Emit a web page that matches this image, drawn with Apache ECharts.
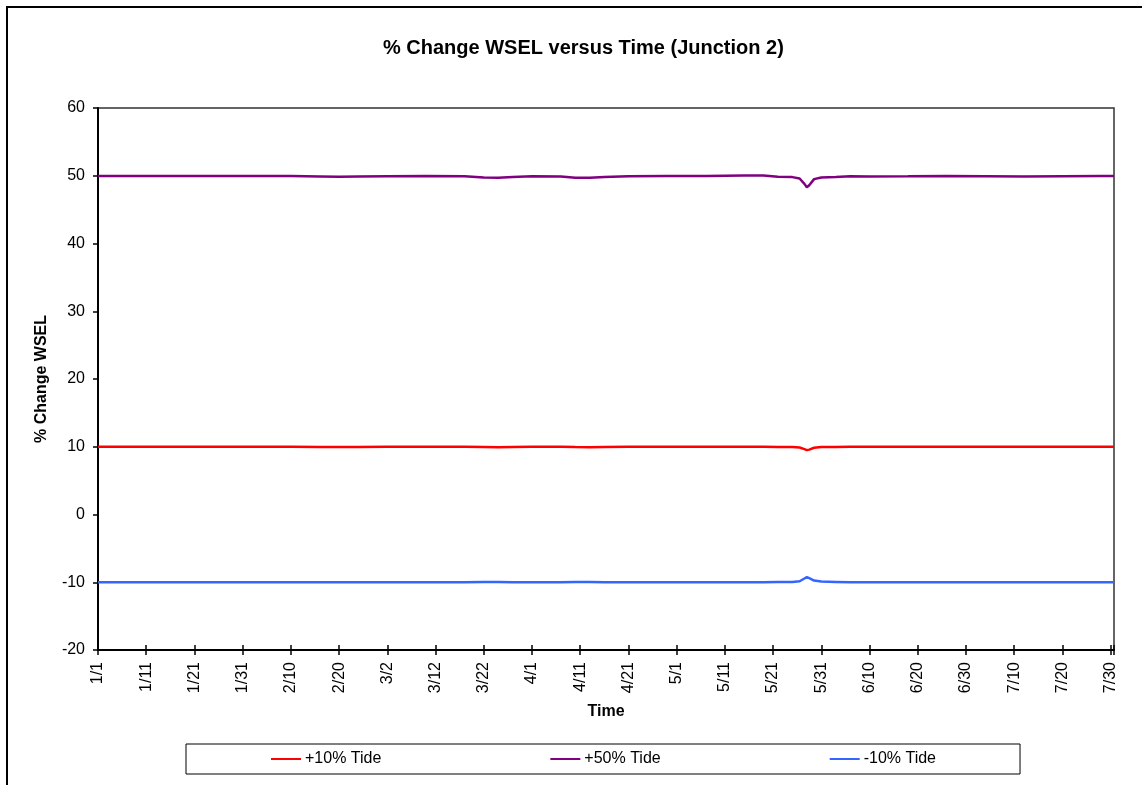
<!DOCTYPE html>
<html>
<head>
<meta charset="utf-8">
<script src="https://cdn.jsdelivr.net/npm/echarts@6/dist/echarts.min.js"></script>
<style>
html,body{margin:0;padding:0;background:#fff;}
#chart{width:1142px;height:785px;}
</style>
</head>
<body>
<div id="chart"></div>
<script>
// Day offsets from 1/1 (x positions of sampled points)
const days = [0, 8, 16, 24, 32, 40, 46, 50, 54, 60, 68, 76, 80, 83, 86, 90, 96, 99, 102, 105, 110, 118, 126, 134, 138, 141, 144, 145.5, 146.5, 147, 147.5, 148.5, 150, 153, 156, 160, 168, 176, 184, 192, 200, 208, 210.7];

const plus10 = [10.0, 10.0, 10.0, 10.0, 10.0, 10.0, 9.98, 9.97, 9.98, 10.0, 10.0, 9.99, 9.96, 9.94, 9.97, 10.0, 9.99, 9.95, 9.94, 9.97, 10.0, 10.0, 10.0, 10.01, 10.01, 9.97, 9.95, 9.88, 9.65, 9.5, 9.58, 9.85, 9.95, 9.97, 10.0, 9.99, 10.0, 10.0, 10.0, 9.99, 10.0, 10.0, 10.0];

const plus50 = [49.95, 49.97, 49.98, 49.97, 49.98, 49.97, 49.9, 49.85, 49.88, 49.92, 49.95, 49.92, 49.75, 49.7, 49.8, 49.93, 49.9, 49.72, 49.7, 49.82, 49.93, 49.95, 49.97, 50.02, 50.03, 49.85, 49.8, 49.6, 48.8, 48.3, 48.6, 49.5, 49.75, 49.8, 49.92, 49.9, 49.92, 49.95, 49.93, 49.9, 49.93, 49.95, 49.95];

const minus10 = [-10.0, -10.0, -10.0, -10.0, -10.0, -10.0, -10.0, -9.99, -10.0, -10.0, -10.0, -10.0, -9.98, -9.97, -9.99, -10.0, -10.0, -9.98, -9.97, -9.99, -10.0, -10.0, -10.0, -10.0, -10.0, -9.97, -9.95, -9.85, -9.45, -9.25, -9.4, -9.75, -9.9, -9.95, -10.0, -10.0, -10.0, -10.0, -10.0, -10.0, -10.0, -10.0, -10.0];

const tickLabels = ['1/1','1/11','1/21','1/31','2/10','2/20','3/2','3/12','3/22','4/1','4/11','4/21','5/1','5/11','5/21','5/31','6/10','6/20','6/30','7/10','7/20','7/30'];

const seriesNames = ['+10% Tide', '+50% Tide', '-10% Tide'];
const seriesColors = ['#FF0000', '#800080', '#3366FF'];

const pair = arr => days.map((d, i) => [d, arr[i]]);
const FONT = "'Liberation Sans', Arial, sans-serif";

const chart = echarts.init(document.getElementById('chart'));
const xCommon = {
  type: 'value', min: 0, max: 210.7, interval: 10,
  splitLine: { show: false }
};
chart.setOption({
  animation: false,
  backgroundColor: '#fff',
  title: {
    text: '% Change WSEL versus Time (Junction 2)',
    left: 378, top: 33,
    textStyle: { fontFamily: FONT, fontSize: 20, fontWeight: 'bold', color: '#000' }
  },
  graphic: [{
    type: 'rect', silent: true,
    shape: { x: 7, y: 7, width: 1200, height: 900 },
    style: { fill: 'none', stroke: '#000', lineWidth: 2 }
  }],
  grid: {
    left: 98, top: 108, right: 28, bottom: 135,
    show: true, borderColor: '#333', borderWidth: 1.5, backgroundColor: 'transparent'
  },
  legend: {
    left: 186, top: 744,
    padding: [7, 84, 7, 85],
    itemGap: 169, itemWidth: 30, itemHeight: 2,
    icon: 'rect',
    borderColor: '#000', borderWidth: 1,
    textStyle: { fontFamily: FONT, fontSize: 16, color: '#000', lineHeight: 16, padding: [0, 0, 0, -1] },
    data: seriesNames
  },
  xAxis: [
    Object.assign({}, xCommon, {
      name: 'Time', nameLocation: 'middle', nameGap: 54,
      nameTextStyle: { fontFamily: FONT, fontSize: 16, fontWeight: 'bold', color: '#000' },
      axisLine: { show: true, onZero: false, lineStyle: { color: '#000', width: 2 } },
      axisTick: { show: true, inside: false, length: 5, lineStyle: { color: '#000', width: 1.5 } },
      axisLabel: {
        rotate: 90, margin: 12, showMaxLabel: true,
        fontFamily: FONT, fontSize: 16, color: '#000',
        formatter: v => {
          const r = Math.round(v);
          if (Math.abs(v - r) > 1e-6 || r % 10 !== 0) return '';
          return tickLabels[r / 10] || '';
        }
      }
    }),
    Object.assign({}, xCommon, {
      position: 'bottom',
      axisLine: { show: false, onZero: false },
      axisTick: { show: true, inside: true, length: 5, lineStyle: { color: '#000', width: 1.5 } },
      axisLabel: { show: false }
    })
  ],
  yAxis: {
    type: 'value', min: -20, max: 60, interval: 10,
    name: '% Change WSEL', nameLocation: 'middle', nameGap: 48, nameRotate: 90,
    nameTextStyle: { fontFamily: FONT, fontSize: 16, fontWeight: 'bold', color: '#000' },
    axisLine: { show: true, lineStyle: { color: '#000', width: 2 } },
    axisTick: { show: true, inside: false, length: 5, lineStyle: { color: '#000', width: 1.5 } },
    axisLabel: { margin: 13, fontFamily: FONT, fontSize: 16, color: '#000' },
    splitLine: { show: false }
  },
  series: [plus10, plus50, minus10].map((arr, i) => ({
    name: seriesNames[i], type: 'line', xAxisIndex: 0,
    data: pair(arr), symbol: 'none', showSymbol: false,
    lineStyle: { color: seriesColors[i], width: 2.5 },
    itemStyle: { color: seriesColors[i] }
  }))
});
</script>
</body>
</html>
